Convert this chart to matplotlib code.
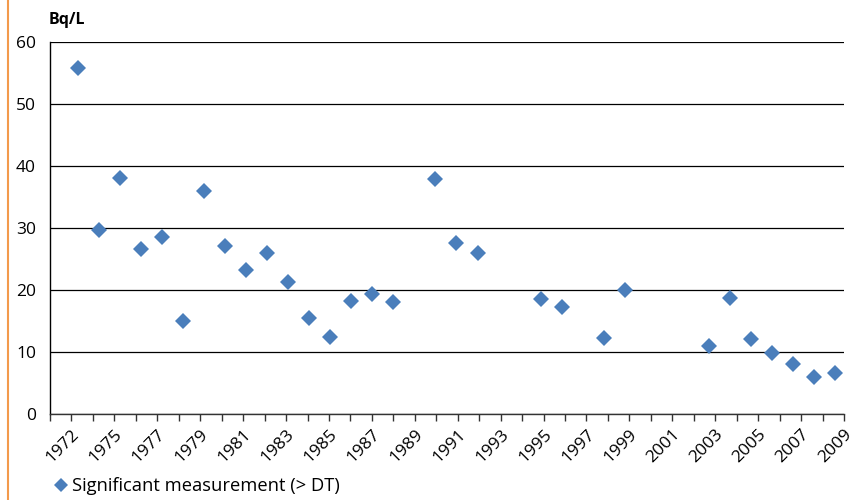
import numpy as np
import matplotlib.pyplot as plt
from matplotlib.lines import Line2D

# Years on the category axis (1974 has no category)
years = [1972, 1973, 1975, 1976, 1977, 1978, 1979, 1980, 1981, 1982,
         1983, 1984, 1985, 1986, 1987, 1988, 1989, 1990, 1991, 1992,
         1993, 1994, 1995, 1996, 1997, 1998, 1999, 2000, 2001, 2002,
         2003, 2004, 2005, 2006, 2007, 2008, 2009]

# Significant measurements in Bq/L (nan = nothing above the detection threshold)
nan = np.nan
values = [55.8, 29.6, 38.0, 26.6, 28.6, 15.0, 36.0, 27.1, 23.3, 25.9,
          21.3, 15.5, 12.4, 18.2, 19.3, 18.1, nan, 37.9, 27.6, 26.0,
          nan, nan, 18.5, 17.2, nan, 12.2, 20.0, nan, nan, nan,
          10.9, 18.7, 12.1, 9.8, 8.0, 6.0, 6.6]

tick_labels = ['1972', '1975', '1977', '1979', '1981', '1983', '1985', '1987',
               '1989', '1991', '1993', '1995', '1997', '1999', '2001', '2003',
               '2005', '2007', '2009']

plt.rcParams['font.family'] = ['Open Sans', 'DejaVu Sans']
blue = '#4a7ebb'

fig = plt.figure(figsize=(8.55, 5), dpi=100)
ax = fig.add_axes([50 / 855, 86 / 500, 794 / 855, 372 / 500])

x = np.arange(len(years))
ax.plot(x, values, linestyle='none', marker='D', markersize=7.8,
        color=blue, markeredgewidth=0, label='Significant measurement (> DT)')

# axis range: points sit a little inside the tick marks
left, right = -1.32, 36.42
ax.set_xlim(left, right)
ax.set_ylim(0, 60)

ticks = np.linspace(left, right, 38)
ax.set_xticks(ticks)
labels = [''] * 38
labels[1::2] = tick_labels
ax.set_xticklabels(labels, rotation=45, ha='right', rotation_mode='anchor',
                   fontsize=12.5)
ax.tick_params(axis='x', length=5, width=1, color='#333333', pad=4)

ax.set_yticks(range(0, 61, 10))
ax.tick_params(axis='y', length=0, pad=10, labelsize=12.5)

ax.grid(axis='y', color='black', linewidth=0.9)
ax.set_axisbelow(True)
for side in ['top', 'right']:
    ax.spines[side].set_visible(False)
ax.spines['left'].set_linewidth(1)
ax.spines['bottom'].set_linewidth(1)
ax.spines['bottom'].set_color('#333333')

fig.text(49 / 855, 1 - 20 / 500, 'Bq/L', fontsize=11.5, fontweight='bold',
         va='center', ha='left')

fig.legend(loc='center left', bbox_to_anchor=(44 / 855, 1 - 486 / 500),
           frameon=False, fontsize=13.2, handletextpad=0.15, handlelength=1.0,
           markerscale=0.85, borderaxespad=0)

# orange rule down the left edge
fig.add_artist(Line2D([8 / 855, 8 / 855], [0, 1], color='#f39a4c', linewidth=1.5))

plt.savefig('out.png', dpi=100)
